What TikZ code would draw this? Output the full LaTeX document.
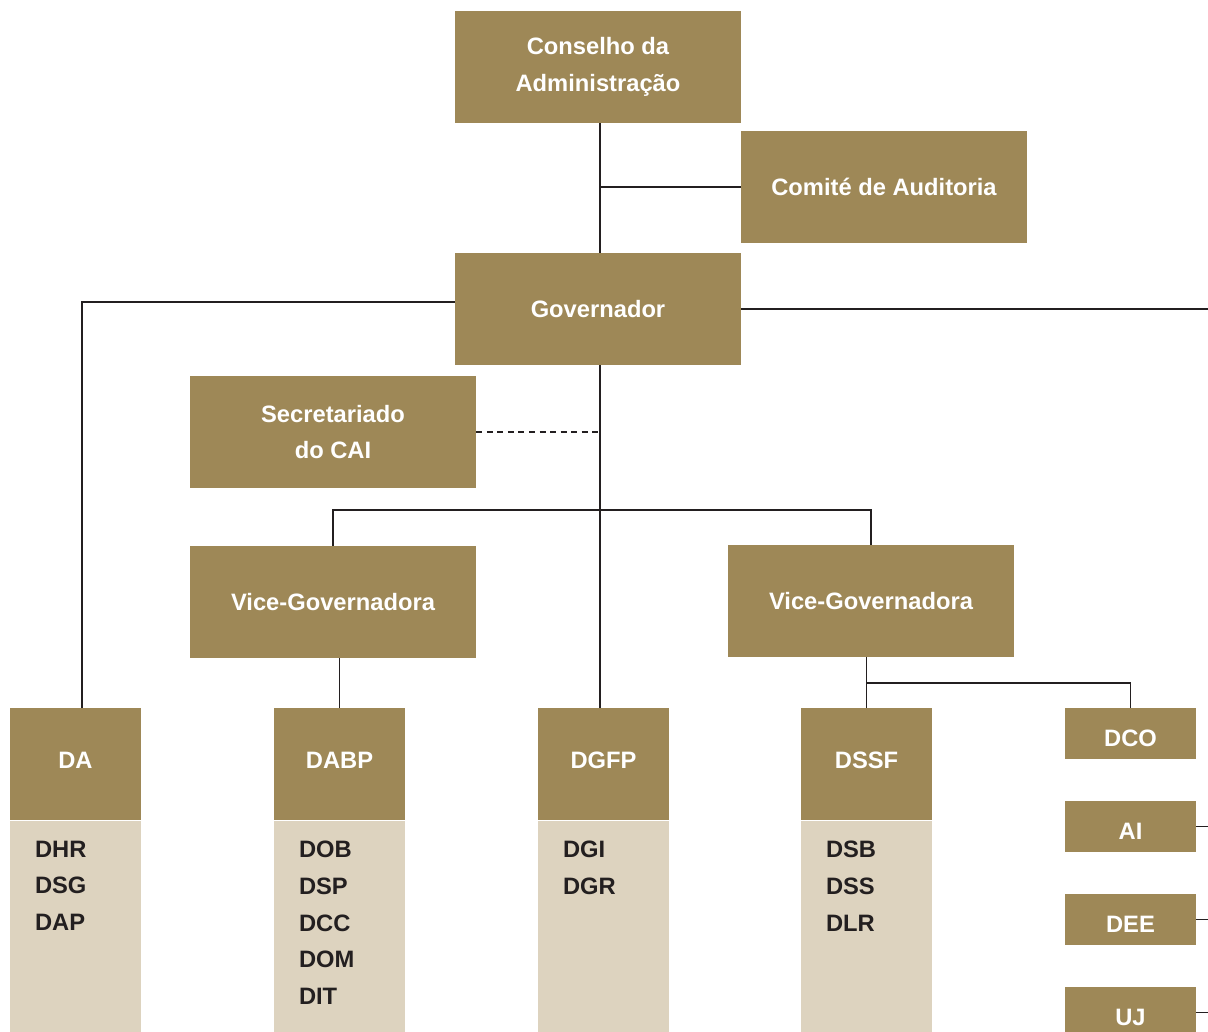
\documentclass[tikz,border=0pt]{standalone}
\usepackage{fontspec}
\setmainfont{Liberation Sans}
\usetikzlibrary{positioning}
\definecolor{gold}{HTML}{9E8857}
\definecolor{sand}{HTML}{DDD3BF}
\definecolor{ink}{HTML}{231F20}

\begin{document}
\begin{tikzpicture}[
  x=0.02cm, y=-0.02cm,
  font=\fontsize{13.5}{21}\selectfont\bfseries,
  unit/.style={rectangle, fill=gold, text=white, inner sep=0pt, minimum width=5.72cm, minimum height=2.24cm, align=center},
  dept/.style={rectangle, fill=gold, text=white, inner sep=0pt, minimum width=2.62cm, minimum height=2.24cm,
    text height=0.34cm, text depth=0.16cm},
  office/.style={rectangle, fill=gold, text=white, inner sep=0pt, minimum width=2.62cm, minimum height=1.02cm,
    text height=0.5cm, text depth=0cm},
  subbox/.style={rectangle, fill=sand, inner sep=0pt, minimum width=2.62cm, minimum height=4.24cm, anchor=north},
  sublist/.style={anchor=north west, text=ink, inner sep=0pt, align=left},
  link/.style={draw=ink, line width=1.1pt},
  assist/.style={link, dash pattern=on 3.4pt off 2.6pt}
]
  \useasboundingbox (0,0) rectangle (1208,1032);
  \coordinate (edgeR) at (1208,0);
  % top of the organisation
  \node[unit] (board) at (598,67) {Conselho da\\Administração};
  \node[unit] (audit) at (884,187) {Comité de Auditoria};
  \node[unit] (gov) at (598,309) {Governador};
  \node[unit] (sec) at (333,432) {Secretariado\\do CAI};
  \node[unit] (vgA) at (333,602) {Vice-Governadora};
  \node[unit] (vgB) at (871,601) {Vice-Governadora};
  % departments with their units
  \foreach \name/\xc/\list in {DA/75.5/{DHR\\DSG\\DAP}, DABP/339.5/{DOB\\DSP\\DCC\\DOM\\DIT},
      DGFP/603.5/{DGI\\DGR}, DSSF/866.5/{DSB\\DSS\\DLR}} {
    \node[dept] (\name) at (\xc,764) {\name};
    \node[subbox] (\name-sub) at (\name.south) {};
    \node[sublist] (\name-list) at ([xshift=0.5cm,yshift=-0.4cm]\name.south west) {\list};
  }
  % offices on the right
  \foreach \name/\yc in {DCO/733.5, AI/826.5, DEE/919.5, UJ/1012.5} {
    \node[office] (\name) at (1130.5,\yc) {\name};
  }
  % connectors
  \coordinate (trunk) at (600,0);
  \coordinate (toDA) at (82,302);
  \draw[link] (board.south -| trunk) -- (gov.north -| trunk);
  \draw[link] (audit.west) -- (audit.west -| trunk);
  \draw[link] (gov.west |- toDA) -- (toDA) -- (toDA |- DA.north);
  \draw[link] (gov.east) -- (gov.east -| edgeR);
  \draw[link] (gov.south -| trunk) -- (DGFP.north -| trunk);
  \draw[assist] (sec.east) -- (sec.east -| trunk);
  \coordinate (bar) at (600,510);
  \draw[link] (vgA.north) |- (bar) -| (vgB.north);
  \draw[link] (DABP.north) -- (DABP.north |- vgA.south);
  \draw[link] (DSSF.north) -- (DSSF.north |- vgB.south);
  \coordinate (split) at (866.5,683);
  \draw[link] (split) -| (DCO.north);
  \foreach \o in {AI, DEE, UJ} {
    \draw[link] (\o.east) -- (\o.east -| edgeR);
  }
\end{tikzpicture}
\end{document}
